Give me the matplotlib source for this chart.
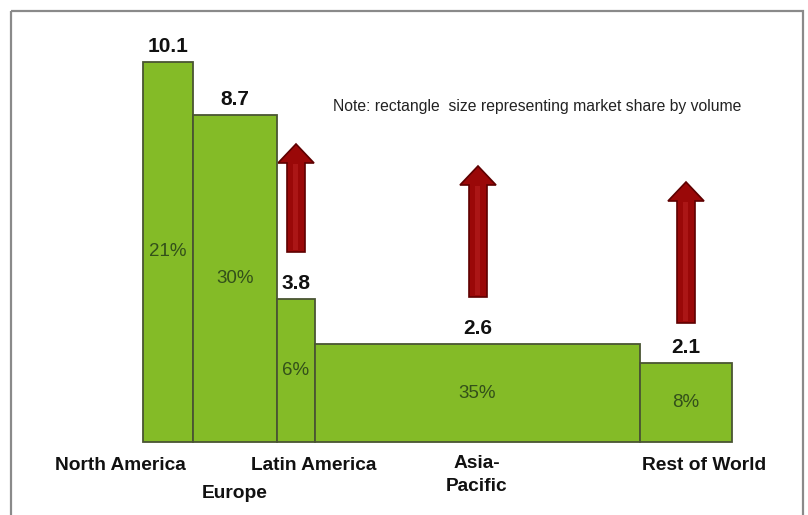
import matplotlib
matplotlib.use("Agg")
import matplotlib.pyplot as plt
import matplotlib.patches as mpatches
import numpy as np

plt.rcParams["font.family"] = ["Liberation Sans", "DejaVu Sans"]

# data
regions = ["North America", "Europe", "Latin America", "Asia-\nPacific", "Rest of World"]
values = [10.1, 8.7, 3.8, 2.6, 2.1]
shares = [21, 30, 6, 35, 8]
share_labels = ["21%", "30%", "6%", "35%", "8%"]
note = "Note: rectangle  size representing market share by volume"

# rectangle area ~ share, so width = share / value
widths = np.array(shares) / np.array(values)
lefts = np.concatenate([[0], np.cumsum(widths)[:-1]])

fig = plt.figure(figsize=(8.08, 5.15), dpi=100)

# overlay in pixel coordinates for frame, arrows and labels
ov = fig.add_axes([0, 0, 1, 1])
ov.set_xlim(0, 808)
ov.set_ylim(515, 0)
ov.axis("off")

ov.add_patch(mpatches.Rectangle((11, 11), 792, 520, fill=False,
                                edgecolor="#8a8a8a", linewidth=1.6))

# bars
ax = fig.add_axes([143 / 808, (515 - 442) / 515, 589 / 808, 380 / 515])
ax.set_xlim(0, widths.sum())
ax.set_ylim(0, max(values))
ax.axis("off")

for i in range(len(values)):
    ax.bar(lefts[i], values[i], width=widths[i], align="edge",
           color="#84bb27", edgecolor="#4a5533", linewidth=1.3, clip_on=False)
    ax.annotate("{}".format(values[i]), (lefts[i] + widths[i] / 2, values[i]),
                xytext=(0, 11), textcoords="offset points", ha="center", va="center",
                fontsize=15, fontweight="bold", color="#111111", annotation_clip=False)
    ax.text(lefts[i] + widths[i] / 2, values[i] / 2, share_labels[i],
            ha="center", va="center", fontsize=13.5, color="#33501a")

# category labels (placed as in the original slide)
label_pos = [(120, 466), (235, 493), (314, 466), (477, 475), (704, 466)]
for name, (x, y) in zip(regions, label_pos):
    ov.text(x, y, name, ha="center", va="center", fontsize=13.8,
            fontweight="bold", color="#111111", linespacing=1.4)

ov.text(333, 107, note, ha="left", va="center", fontsize=11.3, color="#222222")

# growth arrows
arrows = [(296, 252, 144), (478, 297, 166), (686, 323, 182)]
for x, y0, y1 in arrows:
    ov.add_patch(mpatches.FancyArrow(x, y0, 0, y1 - y0, width=18, head_width=36,
                                     head_length=19, length_includes_head=True,
                                     facecolor="#9a0808", edgecolor="#5e0000",
                                     linewidth=1.2))
    ov.add_patch(mpatches.Rectangle((x - 3, y1 + 20), 5, y0 - y1 - 22,
                                    facecolor="#b82020", edgecolor="none", alpha=0.6))

fig.savefig("out.png", dpi=100)
